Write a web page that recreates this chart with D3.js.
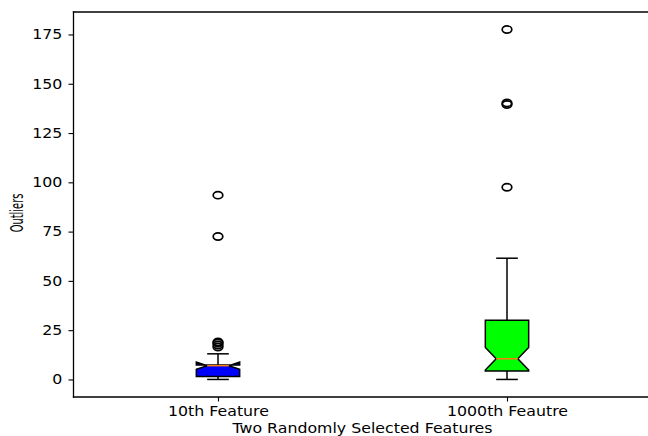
<!DOCTYPE html>
<html>
<head>
<meta charset="utf-8">
<script src="https://cdn.jsdelivr.net/npm/d3@7"></script>
<style>
  body { margin: 0; background: #fff; }
  text { font-family: "DejaVu Sans", sans-serif; fill: #000; }
</style>
</head>
<body>
<svg id="chart" width="648" height="436"></svg>
<script>
// box stats
let categories = ['10th Feature', '1000th Feautre'];
let boxColors = ['#0000ff', '#00ff00'];
let whiskerLo = [0, 0];
let q1 = [1.5, 4.3];
let notchLo = [5.2, 4.8];
let medians = [7, 10.5];
let notchHi = [8.8, 16.2];
let q3 = [7.3, 30];
let whiskerHi = [13, 61.5];
let fliers = [
	[16.5, 17.5, 18.5, 19, 72.5, 93.5],
	[97.5, 139.5, 140.3, 177.5]
];
let yTicks = [0, 25, 50, 75, 100, 125, 150, 175];

let svg = d3.select('#chart');

let x = d3.scaleLinear()
	.domain([0.5, 2.5])
	.range([73.5, 651.5]);

let y = d3.scaleLinear()
	.domain([-8.9, 186.4])
	.range([397, 12]);

let boxW = 0.15;
let stretch = 1.17; // the original image is wider than tall

// axes
svg.append('g')
	.attr('transform', 'translate(0,397)')
	.call(d3.axisBottom(x).tickValues([1, 2]).tickFormat((d, i) => categories[i]).tickSizeOuter(0).tickSize(4.5).tickPadding(5))
	.call(g => g.selectAll('text').style('font-size', '13.5px').attr('transform', `scale(${stretch},1)`));

svg.append('g')
	.attr('transform', 'translate(73.5,0)')
	.call(d3.axisLeft(y).tickValues(yTicks).tickSizeOuter(0).tickSize(5).tickPadding(4.5))
	.call(g => g.selectAll('text').style('font-size', '13.5px').attr('transform', `scale(${stretch},1)`));

svg.selectAll('.domain').remove();
svg.selectAll('.tick line').attr('stroke', '#000').attr('stroke-width', 1.1);

// spines
let spines = [
	[x(0.5), 397, x(2.5), 397],
	[x(0.5), 12, x(2.5), 12],
	[x(0.5), 12, x(0.5), 397],
	[x(2.5), 12, x(2.5), 397]
];
svg.append('g').selectAll('line')
	.data(spines)
	.join('line')
	.attr('x1', d => d[0]).attr('y1', d => d[1])
	.attr('x2', d => d[2]).attr('y2', d => d[3])
	.attr('stroke', '#000').attr('stroke-width', 1.3)
	.attr('stroke-linecap', 'square');

let boxes = svg.append('g').selectAll('g')
	.data(categories)
	.join('g');

boxes.each(function(c, i) {
	let g = d3.select(this);
	let p = i + 1;
	let l = p - boxW / 2, r = p + boxW / 2;
	let cl = p - boxW / 4, cr = p + boxW / 4;

	// whiskers
	g.append('line')
		.attr('x1', x(p)).attr('x2', x(p))
		.attr('y1', y(whiskerLo[i])).attr('y2', y(q1[i]))
		.attr('stroke', '#000').attr('stroke-width', 1.5);
	g.append('line')
		.attr('x1', x(p)).attr('x2', x(p))
		.attr('y1', y(q3[i])).attr('y2', y(whiskerHi[i]))
		.attr('stroke', '#000').attr('stroke-width', 1.5);

	// caps
	[whiskerLo[i], whiskerHi[i]].forEach(v => {
		g.append('line')
			.attr('x1', x(cl)).attr('x2', x(cr))
			.attr('y1', y(v)).attr('y2', y(v))
			.attr('stroke', '#000').attr('stroke-width', 1.5);
	});

	// notched box, same vertex order as matplotlib
	let pts = [
		[l, q1[i]], [r, q1[i]], [r, notchLo[i]], [cr, medians[i]],
		[r, notchHi[i]], [r, q3[i]], [l, q3[i]], [l, notchHi[i]],
		[cl, medians[i]], [l, notchLo[i]], [l, q1[i]]
	];
	g.append('path')
		.attr('d', d3.line().x(d => x(d[0])).y(d => y(d[1]))(pts) + 'Z')
		.attr('fill', boxColors[i])
		.attr('stroke', '#000')
		.attr('stroke-width', 1.5)
		.attr('stroke-linejoin', 'miter');

	// median
	g.append('line')
		.attr('x1', x(cl)).attr('x2', x(cr))
		.attr('y1', y(medians[i])).attr('y2', y(medians[i]))
		.attr('stroke', '#ff7f0e').attr('stroke-width', 1.5);

	// fliers
	g.selectAll('ellipse')
		.data(fliers[i])
		.join('ellipse')
		.attr('cx', x(p))
		.attr('cy', d => y(d))
		.attr('rx', 4.8)
		.attr('ry', 3.6)
		.attr('fill', 'none')
		.attr('stroke', '#000')
		.attr('stroke-width', 1.7);
});

// axis titles
svg.append('text')
	.attr('transform', `translate(362.5,433) scale(${stretch},1)`)
	.attr('text-anchor', 'middle')
	.style('font-size', '13.5px')
	.text('Two Randomly Selected Features');

svg.append('text')
	.attr('transform', 'translate(23,213) rotate(-90) scale(0.66,1.12)')
	.attr('text-anchor', 'middle')
	.style('font-size', '15px')
	.text('Outliers');
</script>
</body>
</html>
